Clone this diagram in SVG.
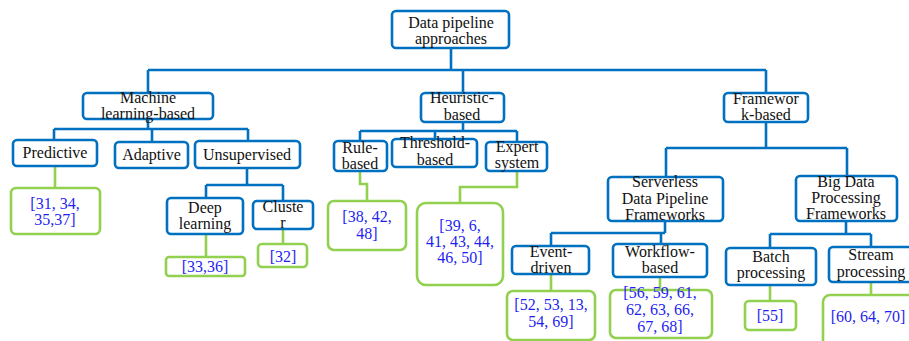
<svg xmlns="http://www.w3.org/2000/svg" width="909" height="341" viewBox="0 0 909 341">
<style>
.n{fill:#fff;stroke:#0070C0;stroke-width:2.6}
.r{fill:#fff;stroke:#92D050;stroke-width:2.6}
.c{fill:none;stroke:#0070C0;stroke-width:2.6}
.g{fill:none;stroke:#92D050;stroke-width:2.6}
text{font-family:"Liberation Serif","Times New Roman",serif;font-size:16px;text-anchor:middle;fill:#111}
.b{fill:#1F1FF0}
</style>
<rect width="909" height="341" fill="#fff"/>
<g id="connectors">
<path class="c" d="M451 48V70M148 70H766M148 70V93M463 70V93M766 70V93"/>
<path class="c" d="M148 119V129M54 129H248M54 129V140M152 129V142M248 129V141"/>
<path class="c" d="M463 122V131M360 131H517M360 131V141M435 131V139M517 131V142"/>
<path class="c" d="M766 122V148M666 148H847M666 148V177M847 148V176"/>
<path class="c" d="M247 168V185M206 185H283M206 185V198M283 185V201"/>
<path class="c" d="M665 221V233M551 233H665M551 233V246M661 233V244"/>
<path class="c" d="M846 221V234M770 234H871M770 234V248M871 234V247"/>
<path class="g" d="M55 166V188M206 234V257M283 229V244M360 171V184H367V201M517 171V187H460V203M551 274V291M660 277V290M770 285V301M871 282V295"/>
</g>
<g id="root"><rect class="n" x="392" y="11" width="117" height="37" rx="4"/><text x="451" y="28">Data pipeline</text><text x="451" y="44">approaches</text></g>
<g id="ml"><rect class="n" x="83" y="93" width="130" height="26" rx="4"/><text x="148" y="103">Machine</text><text x="148" y="119">learning-based</text></g>
<g id="heuristic"><rect class="n" x="421" y="93" width="83" height="29" rx="4"/><text x="462" y="103">Heuristic-</text><text x="462" y="120">based</text></g>
<g id="framework"><rect class="n" x="724" y="93" width="84" height="29" rx="4"/><text x="766" y="104">Framewor</text><text x="766" y="120">k-based</text></g>
<g id="predictive"><rect class="n" x="13" y="140" width="84" height="26" rx="4"/><text x="55" y="158">Predictive</text></g>
<g id="adaptive"><rect class="n" x="115" y="142" width="73" height="26" rx="4"/><text x="151.5" y="160">Adaptive</text></g>
<g id="unsupervised"><rect class="n" x="195" y="141" width="105" height="27" rx="4"/><text x="247" y="160">Unsupervised</text></g>
<g id="rule"><rect class="n" x="334" y="141" width="53" height="30" rx="4"/><text x="360" y="153">Rule-</text><text x="360" y="169">based</text></g>
<g id="threshold"><rect class="n" x="392" y="139" width="85" height="28" rx="4"/><text x="435" y="148">Threshold-</text><text x="435" y="165">based</text></g>
<g id="expert"><rect class="n" x="486" y="142" width="61" height="29" rx="4"/><text x="517" y="152">Expert</text><text x="517" y="168">system</text></g>
<g id="serverless"><rect class="n" x="608" y="177" width="115" height="44" rx="4"/><text x="665" y="187">Serverless</text><text x="665" y="204">Data Pipeline</text><text x="665" y="220">Frameworks</text></g>
<g id="bigdata"><rect class="n" x="796" y="176" width="101" height="45" rx="4"/><text x="846" y="187">Big Data</text><text x="846" y="203">Processing</text><text x="846" y="219">Frameworks</text></g>
<g id="deep"><rect class="n" x="167" y="198" width="76" height="36" rx="4"/><text x="205" y="213">Deep</text><text x="205" y="229">learning</text></g>
<g id="cluster"><rect class="n" x="253" y="201" width="60" height="28" rx="4"/><text x="283" y="212">Cluste</text><text x="283" y="228">r</text></g>
<g id="event"><rect class="n" x="512" y="246" width="77" height="28" rx="4"/><text x="551" y="257">Event-</text><text x="551" y="273">driven</text></g>
<g id="workflow"><rect class="n" x="613" y="244" width="94" height="33" rx="4"/><text x="660" y="257">Workflow-</text><text x="660" y="273">based</text></g>
<g id="batch"><rect class="n" x="726" y="248" width="90" height="37" rx="4"/><text x="771" y="262">Batch</text><text x="771" y="278">processing</text></g>
<g id="stream"><rect class="n" x="829" y="247" width="84" height="35" rx="4"/><text x="871" y="260">Stream</text><text x="871" y="277">processing</text></g>
<g id="ref-predictive"><rect class="r" x="11" y="188" width="89" height="46" rx="5"/><text class="b" x="55" y="209">[31, 34,</text><text class="b" x="55" y="225">35,37]</text></g>
<g id="ref-deep"><rect class="r" x="166" y="257" width="79" height="19" rx="3"/><text class="b" x="205" y="272">[33,36]</text></g>
<g id="ref-cluster"><rect class="r" x="258" y="244" width="49" height="23" rx="4"/><text class="b" x="283" y="262">[32]</text></g>
<g id="ref-rule"><rect class="r" x="328" y="201" width="78" height="49" rx="6"/><text class="b" x="367" y="222">[38, 42,</text><text class="b" x="367" y="239">48]</text></g>
<g id="ref-expert"><rect class="r" x="417" y="203" width="86" height="82" rx="9"/><text class="b" x="460" y="231">[39, 6,</text><text class="b" x="460" y="247">41, 43, 44,</text><text class="b" x="460" y="263">46, 50]</text></g>
<g id="ref-event"><rect class="r" x="507" y="291" width="88" height="49" rx="6"/><text class="b" x="551" y="310">[52, 53, 13,</text><text class="b" x="551" y="327">54, 69]</text></g>
<g id="ref-workflow"><rect class="r" x="610" y="290" width="102" height="48" rx="6"/><text class="b" x="660" y="298">[56, 59, 61,</text><text class="b" x="660" y="315">62, 63, 66,</text><text class="b" x="660" y="332">67, 68]</text></g>
<g id="ref-batch"><rect class="r" x="745" y="301" width="51" height="29" rx="4"/><text class="b" x="770" y="321">[55]</text></g>
<g id="ref-stream"><rect class="r" x="823" y="295" width="95" height="55" rx="7"/><text class="b" x="868" y="322">[60, 64, 70]</text></g>
</svg>
